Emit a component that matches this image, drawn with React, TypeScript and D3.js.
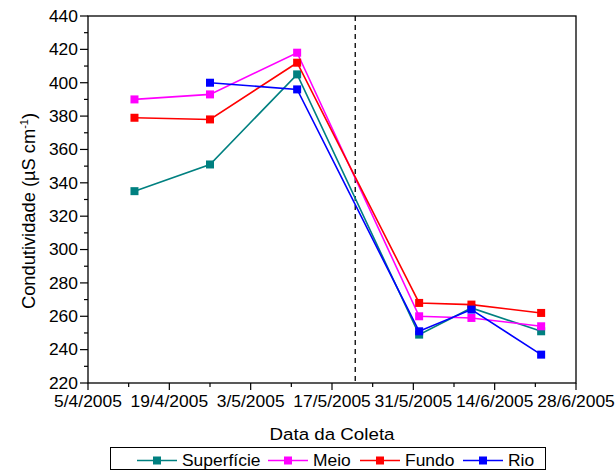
import React from "react";
import * as d3 from "d3";

const dates = ["2005-04-13", "2005-04-26", "2005-05-11", "2005-06-01", "2005-06-10", "2005-06-22"];
const superficie = [335, 351, 405, 249, 265, 251];
const meio = [390, 393, 418, 260, 259, 254];
const fundo = [379, 378, 412, 268, 267, 262];
const rio: (number | null)[] = [null, 400, 396, 251, 264, 237];
const seriesNames = ["Superfície", "Meio", "Fundo", "Rio"];
const seriesColors = ["#008080", "#FF00FF", "#FF0000", "#0000FF"];
const xTickDates = ["2005-04-05", "2005-04-19", "2005-05-03", "2005-05-17", "2005-05-31", "2005-06-14", "2005-06-28"];
const yTicks = [220, 240, 260, 280, 300, 320, 340, 360, 380, 400, 420, 440];
const dashedDate = "2005-05-21";

const parse = (s: string) => new Date(s + "T00:00:00");
const fmt = (d: Date) => `${d.getDate()}/${d.getMonth() + 1}/${d.getFullYear()}`;

const FONT = "Liberation Sans, Arial, Helvetica, sans-serif";
const SX = 1.09;

function T({ x, y, size, anchor = "start", children }: { x: number; y: number; size: number; anchor?: string; children: React.ReactNode }) {
  return (
    <text transform={`translate(${x},${y}) scale(${SX},1)`} textAnchor={anchor} fontSize={size} fill="#000" style={{ fontFamily: FONT }}>
      {children}
    </text>
  );
}

export default function App() {
  const W = 616, H = 471;
  const L = 88, R = 576, TOP = 16, B = 383;
  const x = d3.scaleTime().domain([parse("2005-04-05"), parse("2005-06-28")]).range([L, R]);
  const y = d3.scaleLinear().domain([220, 440]).range([B, TOP]);
  const all = [superficie, meio, fundo, rio];
  const line = d3
    .line<{ d: Date; v: number | null }>()
    .defined((p) => p.v !== null)
    .x((p) => x(p.d))
    .y((p) => y(p.v as number));
  const minorX = d3.range(0, 13).map((i) => d3.timeDay.offset(parse("2005-04-05"), i * 7));
  const minorY = d3.range(220, 441, 10);
  const ms = 8;
  const legendItems = [
    { x1: 137, x2: 177 },
    { x1: 268, x2: 308 },
    { x1: 360, x2: 400 },
    { x1: 463, x2: 503 },
  ];
  const LY = 460.5;
  return (
    <svg width={W} height={H} style={{ position: "absolute", left: 0, top: 0, background: "#fff" }}>
      <line x1={x(parse(dashedDate))} x2={x(parse(dashedDate))} y1={TOP} y2={B} stroke="#000" strokeWidth={1.3} strokeDasharray="5,4" />
      {all.map((vals, i) => {
        const pts = dates.map((d, j) => ({ d: parse(d), v: vals[j] }));
        return (
          <g key={i}>
            <path d={line(pts) || ""} fill="none" stroke={seriesColors[i]} strokeWidth={1.6} />
            {pts.filter((p) => p.v !== null).map((p, j) => (
              <rect key={j} x={x(p.d) - ms / 2} y={y(p.v as number) - ms / 2} width={ms} height={ms} fill={seriesColors[i]} />
            ))}
          </g>
        );
      })}
      <rect x={L} y={TOP} width={R - L} height={B - TOP} fill="none" stroke="#000" strokeWidth={1.3} />
      {minorY.map((v) => (
        <line key={"my" + v} x1={L} x2={L - (v % 20 === 0 ? 8 : 4)} y1={y(v)} y2={y(v)} stroke="#000" strokeWidth={1.2} />
      ))}
      {yTicks.map((v) => (
        <T key={"yt" + v} x={L - 10} y={y(v) + 5.8} size={16} anchor="end">
          {v}
        </T>
      ))}
      {minorX.map((d, i) => (
        <line key={"mx" + i} x1={x(d)} x2={x(d)} y1={B} y2={B + (i % 2 === 0 ? 7 : 4)} stroke="#000" strokeWidth={1.2} />
      ))}
      {xTickDates.map((s) => (
        <T key={"xt" + s} x={x(parse(s))} y={406.5} size={16} anchor="middle">
          {fmt(parse(s))}
        </T>
      ))}
      <T x={332} y={440} size={17.2} anchor="middle">Data da Coleta</T>
      <text transform={`translate(35,211) rotate(-90)`} textAnchor="middle" fontSize={18.3} fill="#000" style={{ fontFamily: FONT }}>
        Condutividade (µS cm<tspan dy="-7" fontSize={11}>-1</tspan><tspan dy="7">)</tspan>
      </text>
      <rect x={110.5} y={447.5} width={435} height={22} fill="#fff" stroke="#000" strokeWidth={1} />
      {legendItems.map((it, i) => (
        <g key={"lg" + i}>
          <line x1={it.x1} x2={it.x2} y1={LY} y2={LY} stroke={seriesColors[i]} strokeWidth={1.6} />
          <rect x={(it.x1 + it.x2) / 2 - ms / 2} y={LY - ms / 2} width={ms} height={ms} fill={seriesColors[i]} />
          <T x={it.x2 + 5} y={466} size={16}>{seriesNames[i]}</T>
        </g>
      ))}
    </svg>
  );
}
